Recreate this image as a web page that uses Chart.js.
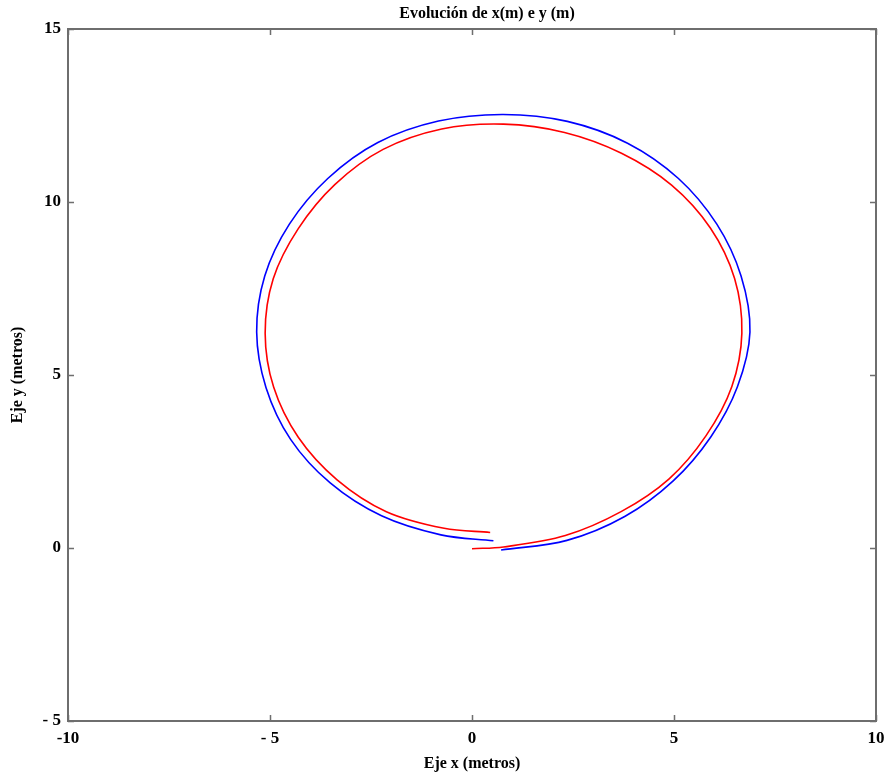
<!DOCTYPE html>
<html>
<head>
<meta charset="utf-8">
<script src="https://cdn.jsdelivr.net/npm/chart.js@4/dist/chart.umd.min.js"></script>
<style>
  html, body { margin: 0; padding: 0; background: #fff; }
  #wrap { width: 885px; height: 780px; }
</style>
</head>
<body>
<div id="wrap"><canvas id="tray"></canvas></div>
<script>
// trajectory samples (metros)
const rojoX = [0.00, 0.78, 2.31, 3.69, 4.88, 5.79, 6.43, 6.68, 6.50, 5.90, 4.94, 3.70, 2.29, 0.78, -0.75, -2.20, -3.39, -4.30, -4.92, -5.12, -4.91, -4.30, -3.34, -2.12, -0.69, 0.45];
const rojoY = [-0.02, 0.03, 0.36, 1.05, 2.00, 3.24, 4.66, 6.21, 7.79, 9.25, 10.49, 11.41, 12.01, 12.25, 12.11, 11.52, 10.51, 9.23, 7.78, 6.21, 4.65, 3.20, 1.97, 1.05, 0.57, 0.45];

const azulX = [0.72, 2.35, 3.78, 4.98, 5.91, 6.57, 6.88, 6.66, 6.06, 5.11, 3.85, 2.36, 0.77, -0.83, -2.33, -3.57, -4.52, -5.13, -5.33, -5.10, -4.49, -3.51, -2.24, -0.77, 0.53];
const azulY = [-0.06, 0.22, 0.91, 1.94, 3.21, 4.66, 6.24, 7.86, 9.36, 10.68, 11.70, 12.33, 12.53, 12.34, 11.72, 10.68, 9.36, 7.86, 6.24, 4.64, 3.14, 1.88, 0.93, 0.38, 0.21];

const xTicks = [-10, -5, 0, 5, 10];
const xTickLabels = ['-10', '- 5', '0', '5', '10'];
const yTicks = [-5, 0, 5, 10, 15];
const yTickLabels = ['- 5', '0', '5', '10', '15'];

const SERIF = '"Liberation Serif", "DejaVu Serif", serif';
const FRAME = '#6e6e6e';

const pts = (xs, ys) => xs.map((x, i) => ({ x, y: ys[i] }));

// frame box, inward ticks on all four sides, and the title
const marco = {
  id: 'marco',
  afterDraw(chart) {
    const { ctx, chartArea: a, scales } = chart;
    ctx.save();
    ctx.strokeStyle = FRAME;
    ctx.lineWidth = 2;
    ctx.strokeRect(a.left, a.top, a.right - a.left, a.bottom - a.top);
    ctx.lineWidth = 1.5;
    const len = 6;
    ctx.beginPath();
    xTicks.forEach(v => {
      const px = Math.round(scales.x.getPixelForValue(v)) + 0.5;
      ctx.moveTo(px, a.bottom); ctx.lineTo(px, a.bottom - len);
      ctx.moveTo(px, a.top); ctx.lineTo(px, a.top + len);
    });
    yTicks.forEach(v => {
      const py = Math.round(scales.y.getPixelForValue(v)) + 0.5;
      ctx.moveTo(a.left, py); ctx.lineTo(a.left + len, py);
      ctx.moveTo(a.right, py); ctx.lineTo(a.right - len, py);
    });
    ctx.stroke();

    ctx.fillStyle = '#000';
    ctx.font = 'bold 16px ' + SERIF;
    ctx.textAlign = 'center';
    ctx.textBaseline = 'middle';
    ctx.fillText('Evolución de x(m) e y (m)', 487, 14);
    ctx.restore();
  }
};

new Chart(document.getElementById('tray'), {
  type: 'scatter',
  data: {
    datasets: [
      { label: 'rojo', data: pts(rojoX, rojoY), showLine: true, borderColor: '#ff0000', borderWidth: 1.6, pointRadius: 0, tension: 0.34, fill: false },
      { label: 'azul', data: pts(azulX, azulY), showLine: true, borderColor: '#0000ff', borderWidth: 1.6, pointRadius: 0, tension: 0.34, fill: false }
    ]
  },
  options: {
    responsive: true,
    maintainAspectRatio: false,
    animation: false,
    layout: { padding: { top: 29, right: 9, left: 0, bottom: 0 } },
    plugins: { legend: { display: false }, title: { display: false }, tooltip: { enabled: false } },
    scales: {
      x: {
        type: 'linear', min: -10, max: 10,
        afterFit: s => { s.height = 59; s.paddingLeft = 0; s.paddingRight = 0; },
        afterBuildTicks: s => { s.ticks = xTicks.map(v => ({ value: v })); },
        grid: { display: false, drawTicks: false },
        border: { display: false },
        ticks: {
          color: '#000', padding: 7, maxRotation: 0,
          font: { family: SERIF, size: 17, weight: 'bold' },
          callback: v => xTickLabels[xTicks.indexOf(v)]
        },
        title: {
          display: true, text: 'Eje x (metros)', color: '#000',
          font: { family: SERIF, size: 16, weight: 'bold' },
          padding: { top: 0, bottom: 7 }
        }
      },
      y: {
        type: 'linear', min: -5, max: 15,
        afterFit: s => { s.width = 68; },
        afterBuildTicks: s => { s.ticks = yTicks.map(v => ({ value: v })); },
        grid: { display: false, drawTicks: false },
        border: { display: false },
        ticks: {
          color: '#000', padding: 7,
          font: { family: SERIF, size: 17, weight: 'bold' },
          callback: v => yTickLabels[yTicks.indexOf(v)]
        },
        title: {
          display: true, text: 'Eje y (metros)', color: '#000',
          font: { family: SERIF, size: 16, weight: 'bold' },
          padding: { top: 8, bottom: 0 }
        }
      }
    }
  },
  plugins: [marco]
});
</script>
</body>
</html>
